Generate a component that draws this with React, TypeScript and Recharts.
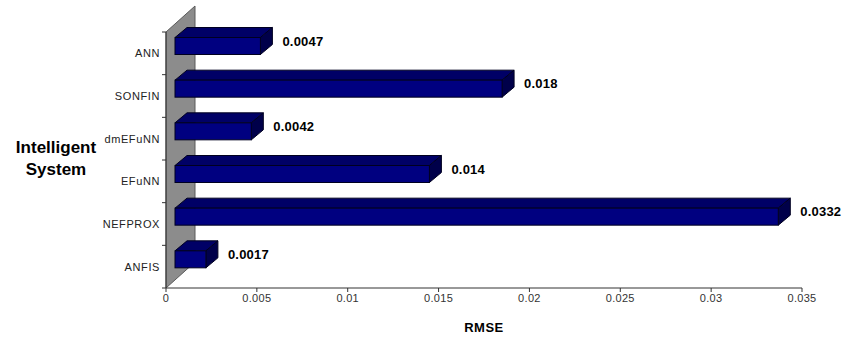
import { BarChart, Bar, XAxis, YAxis, LabelList, ReferenceArea } from "recharts";

const systems = ["ANN", "SONFIN", "dmEFuNN", "EFuNN", "NEFPROX", "ANFIS"];
const rmse = [0.0047, 0.018, 0.0042, 0.014, 0.0332, 0.0017];
const xTicks = [0, 0.005, 0.01, 0.015, 0.02, 0.025, 0.03, 0.035];

const data = systems.map((name, i) => ({ name, rmse: rmse[i] }));

const W = 842;
const H = 340;
const M = { top: 32, right: 40, left: 0, bottom: 0 };
const Y_W = 166;
const X_H = 52;
const HALF_BAND = (H - M.top - X_H) / systems.length / 2;

// offsets of the fake 3D look
const SHIFT_X = 9;
const SHIFT_Y = -7.5;
const DEPTH_X = 12;
const DEPTH_Y = -10;
const WALL_X = 29;
const WALL_Y = -26;

const font = "Arial, 'Liberation Sans', sans-serif";

// bar = front face + top face + right face
function Bar3D(props: any) {
  const { x, y, width, height } = props;
  const fx = x + SHIFT_X;
  const fy = y + SHIFT_Y;
  const r = fx + width;
  return (
    <g stroke="#000020" strokeWidth={1}>
      <polygon
        points={`${fx},${fy} ${fx + DEPTH_X},${fy + DEPTH_Y} ${r + DEPTH_X},${fy + DEPTH_Y} ${r},${fy}`}
        fill="#000066"
      />
      <polygon
        points={`${r},${fy} ${r + DEPTH_X},${fy + DEPTH_Y} ${r + DEPTH_X},${fy + height + DEPTH_Y} ${r},${fy + height}`}
        fill="#00004a"
      />
      <rect x={fx} y={fy} width={width} height={height} fill="#000080" />
    </g>
  );
}

function Wall(props: any) {
  const { x, y, height } = props;
  const b = y + height;
  return (
    <polygon
      points={`${x},${y} ${x + WALL_X},${y + WALL_Y} ${x + WALL_X},${b + WALL_Y} ${x},${b}`}
      fill="#8c8c8c"
      stroke="#5a5a5a"
      strokeWidth={1}
    />
  );
}

function CatTick(props: any) {
  const { x, y, payload, index, visibleTicksCount } = props;
  const ax = x + 6;
  return (
    <g>
      <line x1={ax - 4} x2={ax} y1={y - HALF_BAND} y2={y - HALF_BAND} stroke="#333" />
      {index === visibleTicksCount - 1 && (
        <line x1={ax - 4} x2={ax} y1={y + HALF_BAND} y2={y + HALF_BAND} stroke="#333" />
      )}
      <text
        x={x}
        y={y}
        dy={4}
        textAnchor="end"
        fontFamily={font}
        fontSize={11}
        letterSpacing={0.6}
        fill="#222"
      >
        {payload.value}
      </text>
    </g>
  );
}

function ValueLabel(props: any) {
  const { x, y, width, height, value } = props;
  return (
    <text
      x={x + width + 31}
      y={y + height / 2 - 13}
      dy={5}
      fontFamily={font}
      fontSize={13}
      fontWeight="bold"
      letterSpacing={0.2}
      fill="#000"
    >
      {String(value)}
    </text>
  );
}

function YTitle(props: any) {
  const vb = props.viewBox;
  const cy = vb.y + vb.height / 2;
  const cx = vb.x + 56;
  return (
    <text x={cx} textAnchor="middle" fontFamily={font} fontSize={17} fontWeight="bold" fill="#000">
      <tspan x={cx} y={cy - 7}>Intelligent</tspan>
      <tspan x={cx} y={cy + 15}>System</tspan>
    </text>
  );
}

export default function App() {
  return (
    <div style={{ position: "absolute", left: 0, top: 0, width: W, height: H, background: "#fff" }}>
      <BarChart width={W} height={H} data={data} layout="vertical" margin={M}>
        <ReferenceArea x1={0} x2={0.001} shape={<Wall />} ifOverflow="visible" />
        <XAxis
          type="number"
          domain={[0, 0.035]}
          ticks={xTicks}
          height={X_H}
          stroke="#333"
          tickSize={4}
          tick={{ fontSize: 11, fontFamily: font, fill: "#333", letterSpacing: 0.3 }}
          label={{
            value: "RMSE",
            position: "insideBottom",
            offset: 8,
            style: { fontSize: 13, fontWeight: "bold", fontFamily: font, fill: "#000", letterSpacing: 0.5 },
          }}
        />
        <YAxis
          type="category"
          dataKey="name"
          width={Y_W}
          stroke="#333"
          tickLine={false}
          tickSize={4}
          tickMargin={2}
          tick={<CatTick />}
          label={<YTitle />}
        />
        <Bar dataKey="rmse" barSize={17} shape={<Bar3D />} isAnimationActive={false}>
          <LabelList dataKey="rmse" content={<ValueLabel />} />
        </Bar>
      </BarChart>
    </div>
  );
}
